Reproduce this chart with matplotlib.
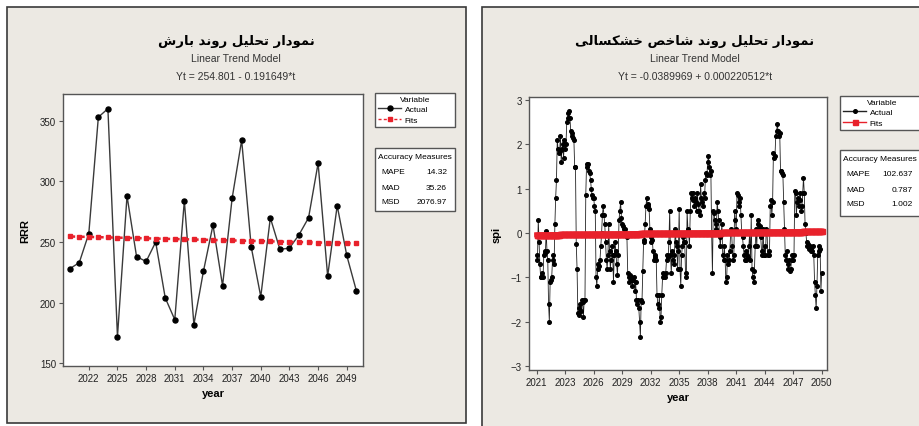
import numpy as np
import matplotlib
matplotlib.use('Agg')
import matplotlib.pyplot as plt
from matplotlib import font_manager
from matplotlib.patches import Rectangle

# narrow face if present, DejaVu for the Persian glyphs
_names = {f.name for f in font_manager.fontManager.ttflist}
_base = 'Liberation Sans Narrow' if 'Liberation Sans Narrow' in _names else 'Liberation Sans'
plt.rcParams['font.family'] = [_base, 'DejaVu Sans']

# ---------------- data ----------------
rain_years = np.arange(2020, 2051)
rain = [228, 233, 257, 353, 360, 172, 288, 238, 234, 250, 204, 186, 284, 182, 226, 264,
        214, 286, 334, 246, 205, 270, 244, 245, 256, 270, 315, 222, 280, 239, 210]
rain_ticks = [2022, 2025, 2028, 2031, 2034, 2037, 2040, 2043, 2046, 2049]
rain_trend = (254.801, -0.191649)
rain_acc = [('MAPE', '14.32'), ('MAD', '35.26'), ('MSD', '2076.97')]

# monthly drought index
spi = [
    -0.5, -0.6, 0.3, -0.2, -0.7, -1.0, -1.0, -0.9, -1.0, -0.5, -0.4, -0.45,
    0.05, -0.4, -0.6, -1.6, -2.0, -1.1, -1.05, -1.0, -0.6, -0.5, -0.7, 0.2,
    0.8, 1.2, 2.1, 1.9, 1.8, 1.85, 2.2, 1.6, 1.9, 2.0, 1.7, 2.1,
    1.9, 2.0, 2.5, 2.6, 2.7, 2.75, 2.6, 2.3, 2.25, 2.2, 2.15, 2.1,
    1.5, 1.5, -0.25, -0.8, -1.8, -1.85, -1.7, -1.6, -1.75, -1.5, -1.55, -1.9,
    -1.5, -1.5, 0.85, 1.55, 1.5, 1.55, 1.4, 1.35, 1.2, 1.0, 0.85, 0.8,
    0.8, 0.6, 0.5, -1.0, -1.2, -0.8, -0.7, -0.75, -0.6, -0.3, 0.0, 0.4,
    0.6, 0.4, 0.2, -0.2, -0.6, -0.8, -0.5, 0.2, -0.4, -0.8, -0.6, -0.3,
    -0.5, -1.1, -0.5, -0.2, -0.4, -0.7, -0.95, -0.5, 0.3, 0.5, 0.7, 0.35,
    0.2, 0.15, 0.1, 0.1, 0.0, -0.05, -0.1, -0.9, -1.0, -1.1, -0.95, -1.0,
    -1.05, -1.2, -1.05, -1.0, -1.3, -1.1, -1.5, -1.6, -1.5, -1.7, -2.0, -2.35,
    -1.5, -1.55, -0.85, -0.2, -0.15, 0.2, 0.6, 0.8, 0.6, 0.65, 0.55, 0.1,
    -0.1, -0.2, -0.15, -0.4, -0.6, -0.5, -0.55, -0.6, -1.4, -1.6, -1.7, -1.4,
    -2.0, -1.9, -1.4, -1.0, -0.9, -0.95, -1.0, -0.9, -0.6, -0.5, -0.55, -0.2,
    0.5, -0.5, -0.9, -0.4, -0.6, -0.7, -0.5, 0.1, -0.2, -0.3, -0.8, -0.4,
    0.55, -0.8, -1.2, -0.5, -0.3, -0.1, -0.2, -0.2, -0.9, -1.0, 0.5, 0.1,
    0.0, -0.3, 0.5, 0.9, 0.8, 0.9, 0.75, 0.6, 0.8, 0.7, 0.5, 0.9,
    0.65, 0.5, 0.4, 1.1, 0.8, 0.7, 0.6, 0.9, 0.8, 1.2, 1.35, 1.3,
    1.6, 1.75, 1.5, 1.3, 1.4, 0.0, -0.9, 0.5, 0.45, 0.3, 0.2, 0.1,
    0.7, 0.5, 0.3, -0.1, -0.3, 0.0, 0.2, -0.5, -0.6, -0.3, -0.6, -1.1,
    -1.0, -0.5, -0.7, -0.6, -0.4, 0.0, 0.1, -0.3, -0.6, -0.5, 0.5, 0.3,
    0.1, 0.9, 0.85, 0.7, 0.6, 0.8, 0.4, 0.0, -0.1, -0.3, -0.5, -0.6,
    -0.6, -0.4, -0.5, -0.55, -0.3, 0.0, -0.6, 0.4, -0.8, -1.0, -1.1, -0.85,
    -0.3, 0.1, -0.3, 0.3, 0.2, 0.1, 0.15, -0.1, -0.4, -0.5, 0.1, -0.5,
    -0.3, -0.5, 0.1, 0.0, -0.5, -0.4, -0.5, 0.6, 0.75, 0.4, 0.7, 1.8,
    1.7, 1.75, 2.2, 2.3, 2.45, 2.3, 2.2, 2.25, 1.4, 1.4, 1.35, 1.3,
    0.7, 0.1, -0.5, -0.6, -0.4, -0.7, -0.8, -0.6, -0.85, -0.8, -0.6, -0.5,
    -0.6, -0.5, 0.95, 0.9, 0.4, 0.7, 0.8, 0.6, 0.75, 0.9, 0.5, 0.6,
    0.9, 1.25, 0.9, 0.2, 0.0, -0.2, -0.3, -0.25, -0.35, -0.3, -0.4, -0.35,
    -0.4, -0.3, -0.5, -1.1, -1.4, -1.7, -1.2, -0.5, -0.3, -0.4, -0.35, -1.3,
    -0.9,
]
spi_tick_labels = ['2021', '2023', '2026', '2029', '2032', '2035', '2038',
                   '2041', '2044', '2047', '2050']
spi_trend = (-0.0389969, 0.000220512)
spi_acc = [('MAPE', '102.637'), ('MAD', '0.787'), ('MSD', '1.002')]

# ---------------- persian letter forms + visual (right-to-left) order ----------------
FORMS = {
    'ا': ('\uFE8D', '\uFE8E', None, None),
    'ب': ('\uFE8F', '\uFE90', '\uFE91', '\uFE92'),
    'ت': ('\uFE95', '\uFE96', '\uFE97', '\uFE98'),
    'ح': ('\uFEA1', '\uFEA2', '\uFEA3', '\uFEA4'),
    'خ': ('\uFEA5', '\uFEA6', '\uFEA7', '\uFEA8'),
    'د': ('\uFEA9', '\uFEAA', None, None),
    'ر': ('\uFEAD', '\uFEAE', None, None),
    'س': ('\uFEB1', '\uFEB2', '\uFEB3', '\uFEB4'),
    'ش': ('\uFEB5', '\uFEB6', '\uFEB7', '\uFEB8'),
    'ص': ('\uFEB9', '\uFEBA', '\uFEBB', '\uFEBC'),
    'ل': ('\uFEDD', '\uFEDE', '\uFEDF', '\uFEE0'),
    'م': ('\uFEE1', '\uFEE2', '\uFEE3', '\uFEE4'),
    'ن': ('\uFEE5', '\uFEE6', '\uFEE7', '\uFEE8'),
    'و': ('\uFEED', '\uFEEE', None, None),
    'ی': ('\uFBFC', '\uFBFD', '\uFBFE', '\uFBFF'),
    'ک': ('\uFB8E', '\uFB8F', '\uFB90', '\uFB91'),
}


def shape_fa(text):
    out = []
    for i, ch in enumerate(text):
        if ch not in FORMS:
            out.append(ch)
            continue
        prev = text[i - 1] if i > 0 else ' '
        nxt = text[i + 1] if i + 1 < len(text) else ' '
        join_prev = prev in FORMS and FORMS[prev][2] is not None
        join_next = nxt in FORMS and FORMS[ch][2] is not None
        iso, fin, ini, med = FORMS[ch]
        if join_prev and join_next:
            out.append(med)
        elif join_prev:
            out.append(fin)
        elif join_next:
            out.append(ini)
        else:
            out.append(iso)
    return ''.join(out)[::-1]


# ---------------- figure ----------------
W, H = 920, 427
fig = plt.figure(figsize=(9.2, 4.27), dpi=100)
fig.patch.set_facecolor('white')

PANEL = '#ECE9E3'
EDGE = '#555555'
RED = '#E8212B'


def fx(px):
    return px / W


def fy(py):
    return 1 - py / H


def panel(x0, y0, x1, y1):
    fig.add_artist(Rectangle((fx(x0), fy(y1)), fx(x1 - x0), (y1 - y0) / H,
                             transform=fig.transFigure, facecolor=PANEL,
                             edgecolor='#3a3a3a', linewidth=1.2, zorder=0))


def style_axes(ax):
    for s in ax.spines.values():
        s.set_color(EDGE)
        s.set_linewidth(1.0)
    ax.tick_params(direction='out', length=3, width=0.8, color=EDGE,
                   labelsize=7, labelcolor='#222222', pad=2)
    ax.tick_params(top=False, right=False)


def titles(cx, title, eq):
    fig.text(fx(cx), fy(42), shape_fa(title), ha='center', va='center',
             fontsize=9.5, fontweight='bold', family=['DejaVu Sans'])
    fig.text(fx(cx), fy(59), 'Linear Trend Model', ha='center', va='center',
             fontsize=7.5, color='#333333')
    fig.text(fx(cx), fy(77), eq, ha='center', va='center',
             fontsize=7.5, color='#333333')


def legend_boxes(ax, x0, x1, y0, y1, ya0, ya1, acc, xv):
    leg = ax.legend(title='Variable', loc='upper left', mode='expand',
                    bbox_to_anchor=(fx(x0), fy(y1), (x1 - x0) / W, (y1 - y0) / H),
                    bbox_transform=fig.transFigure, fontsize=6,
                    title_fontsize=6, frameon=True, fancybox=False,
                    edgecolor=EDGE, framealpha=1, borderpad=0.35,
                    labelspacing=0.3, handlelength=2.8, handletextpad=0.4,
                    borderaxespad=0)
    leg.get_frame().set_linewidth(1.0)
    for ln in leg.get_lines():
        ln.set_linewidth(1.0)
    fig.add_artist(Rectangle((fx(x0), fy(ya1)), (x1 - x0) / W, (ya1 - ya0) / H,
                             transform=fig.transFigure, facecolor='white',
                             edgecolor=EDGE, linewidth=1.0, zorder=3))
    fig.text(fx(x0 + 3), fy(ya0 + 9), 'Accuracy Measures', ha='left',
             va='center', fontsize=6, zorder=4)
    for k, (name, val) in enumerate(acc):
        yy = fy(ya0 + 24 + 15 * k)
        fig.text(fx(x0 + 6), yy, name, ha='left', va='center', fontsize=6, zorder=4)
        fig.text(fx(xv), yy, val, ha='right', va='center', fontsize=6, zorder=4)


# panel backgrounds
panel(7, 8, 466, 424)
panel(482, 8, 935, 440)

# ---- left: rainfall ----
ax1 = fig.add_axes([fx(63), fy(367), fx(300), 272 / H])
t1 = np.arange(1, len(rain) + 1)
rain_fit = rain_trend[0] + rain_trend[1] * t1
ax1.plot(rain_years, rain, color='#3a3a3a', lw=1.0, marker='o', ms=3.6,
         mfc='black', mec='black', label='Actual', zorder=3)
ax1.plot(rain_years, rain_fit, color=RED, lw=1.8, ls=(0, (2.2, 1.6)), marker='s',
         ms=3.4, mfc=RED, mec=RED, label='Fits', zorder=4)
ax1.set_xlim(2019.3, 2050.7)
ax1.set_ylim(147.8, 372.1)
ax1.set_xticks(rain_ticks)
ax1.set_yticks([150, 200, 250, 300, 350])
ax1.set_xlabel('year', fontsize=8, fontweight='bold', labelpad=4)
ax1.set_ylabel('RRR', fontsize=8, fontweight='bold', labelpad=7)
style_axes(ax1)
titles(236, 'نمودار تحلیل روند بارش', 'Yt = 254.801 - 0.191649*t')
legend_boxes(ax1, 375, 455, 94, 143, 149, 212, rain_acc, 447)

# ---- right: drought index ----
ax2 = fig.add_axes([fx(529), fy(371), fx(298), 273 / H])
t2 = np.arange(len(spi))
spi_fit = spi_trend[0] + spi_trend[1] * (t2 + 1)
ax2.plot(t2, spi, color='#222222', lw=0.6, marker='o', ms=2.6,
         mfc='black', mec='black', label='Actual', zorder=3)
ax2.plot(t2, spi_fit, color=RED, lw=3.6, marker='s', ms=3.6,
         mfc=RED, mec=RED, label='Fits', zorder=4)
ax2.set_xlim(-9.7, 366.7)
ax2.set_ylim(-3.09, 3.07)
ax2.set_xticks(np.arange(0, len(spi), 36))
ax2.set_xticklabels(spi_tick_labels)
ax2.set_yticks([-3, -2, -1, 0, 1, 2, 3])
ax2.set_xlabel('year', fontsize=8, fontweight='bold', labelpad=4)
ax2.set_ylabel('spi', fontsize=8, fontweight='bold', labelpad=7)
style_axes(ax2)
titles(695, 'نمودار تحلیل روند شاخص خشکسالی', 'Yt = -0.0389969 + 0.000220512*t')
legend_boxes(ax2, 840, 925, 97, 147, 151, 217, spi_acc, 913)

fig.savefig('out.png', dpi=100, facecolor='white')
